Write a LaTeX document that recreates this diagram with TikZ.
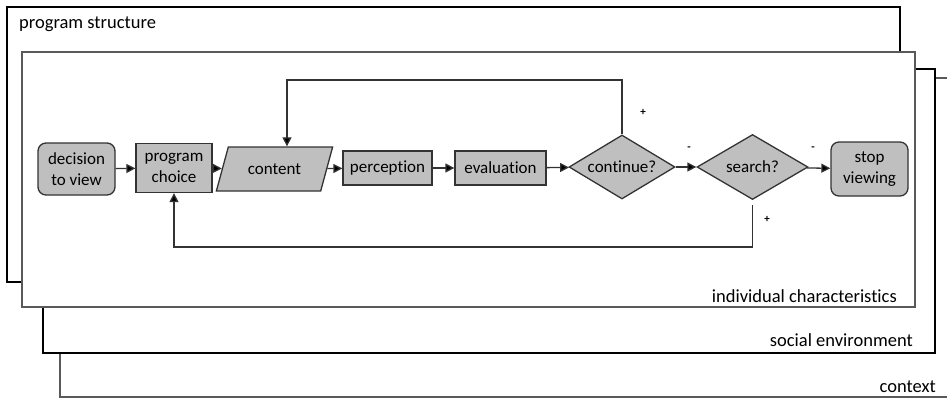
\documentclass[tikz,border=0pt]{standalone}
\usepackage{fontspec}
\setmainfont{Carlito}[Ligatures=NoCommon]
\usetikzlibrary{shapes.geometric,arrows.meta}
\definecolor{boxfill}{gray}{0.75}
\definecolor{boxline}{gray}{0.2}
\definecolor{thinline}{gray}{0.35}

\begin{document}
\begin{tikzpicture}[x=1pt,y=-1pt,
    frame/.style={fill=white,line width=1.6pt},
    frametext/.style={font=\fontsize{18.5}{20}\selectfont,inner sep=0pt},
    box/.style={draw=boxline,fill=boxfill,line width=1.3pt,inner sep=1pt,
      align=center,font=\fontsize{17}{20.5}\selectfont},
    terminal/.style={box,rounded corners=8pt},
    decide/.style={box,diamond,aspect=1.7,inner sep=0pt},
    io/.style={box,trapezium,trapezium left angle=61,trapezium right angle=119,
      trapezium stretches=true},
    arr/.style={draw=boxline,line width=1.3pt,-{Triangle[length=9pt,width=9pt,fill=black]}},
    sign/.style={font=\fontsize{11}{12}\selectfont\bfseries,inner sep=0pt}]
    \useasboundingbox (0,0) rectangle (947,399);
    \clip (0,0) rectangle (947,399);
    % nested frames, back to front
    \draw[frame,draw=thinline,line width=1.2pt] (60,78) rectangle (970,397);
    \draw[frame,draw=black] (43,69) rectangle (935,353);
    \draw[frame,draw=black] (7,7) rectangle (900,282);
    \draw[frame,draw=thinline,line width=1.2pt] (22,52) rectangle (915,307);
    \node[frametext,anchor=base west] (pstruct) at (19,28) {program structure};
    \node[frametext,anchor=base east] (indiv) at (897,302) {individual characteristics};
    \node[frametext,anchor=base east] (social) at (913,346) {social environment};
    \node[frametext,anchor=base east] (ctx) at (936,392) {context};
    % flow
    \node[terminal,minimum width=77pt,minimum height=52pt] (view) at (76.5,169) {decision\\to view};
    \node[box,minimum width=76pt,minimum height=49pt] (choice) at (174,168) {program\\choice};
    \node[io,minimum width=117pt,minimum height=44pt] (content) at (274.5,169) {content};
    \node[box,minimum width=89pt,minimum height=34pt] (percep) at (387.5,168) {perception};
    \node[box,minimum width=91pt,minimum height=34pt] (evalu) at (500.5,168) {evaluation};
    \node[decide,minimum width=106pt,minimum height=64pt] (cont) at (622,167) {continue?};
    \node[decide,minimum width=111pt,minimum height=65pt] (search) at (752.5,167) {search?};
    \node[terminal,minimum width=77pt,minimum height=54pt] (stop) at (869.5,169) {stop\\viewing};
    \draw[arr] (view) -- (choice);
    \draw[arr] (choice) -- (content);
    \draw[arr] (content) -- (percep);
    \draw[arr] (percep) -- (evalu);
    \draw[arr] (evalu) -- (cont);
    \draw[arr] (cont) -- (search);
    \draw[arr] (search) -- (stop);
    % feedback loops
    \coordinate (looptop) at (287,80);
    \coordinate (loopbot) at (174,247);
    \draw[arr] (cont.north) |- (looptop) -- (content.north -| looptop);
    \draw[arr,shorten <=5pt] (search.south) |- (loopbot) -- (choice.south);
    \node[sign] (plus1) at (643,112) {+};
    \node[sign] (minus1) at (689,149) {-};
    \node[sign] (minus2) at (813,149) {-};
    \node[sign] (plus2) at (767,219) {+};
\end{tikzpicture}
\end{document}
